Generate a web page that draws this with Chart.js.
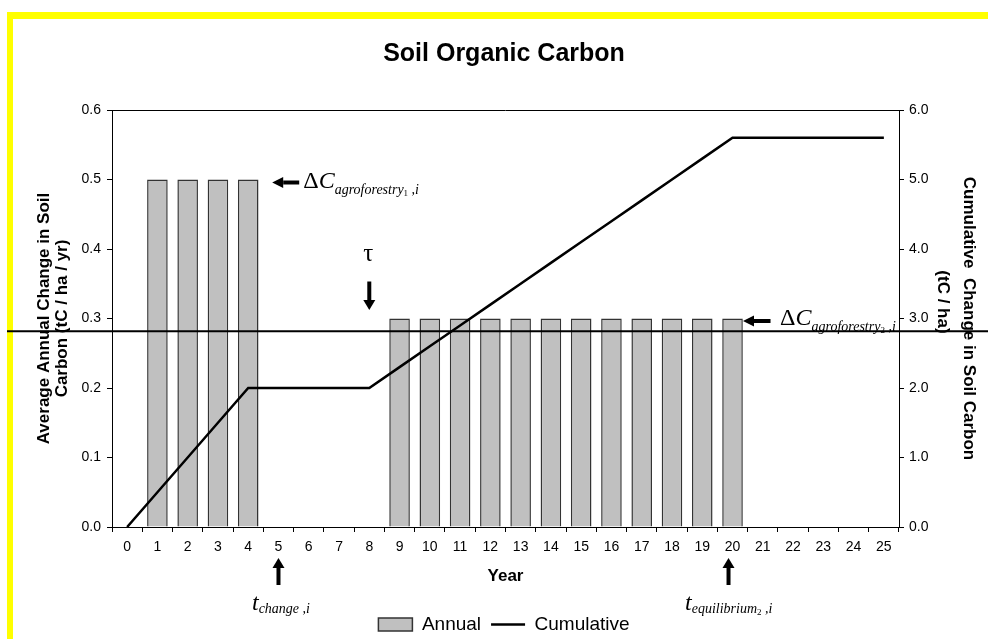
<!DOCTYPE html>
<html>
<head>
<meta charset="utf-8">
<script src="https://cdn.jsdelivr.net/npm/chart.js@4.4.1/dist/chart.umd.min.js"></script>
<style>
html,body{margin:0;padding:0;background:#fff;overflow:hidden;width:988px;height:639px;}
#frame{position:absolute;left:7px;top:12px;width:1200px;height:900px;border-left:6px solid #ffff00;border-top:7px solid #ffff00;box-sizing:border-box;}
#c{position:absolute;left:0;top:0;}
</style>
</head>
<body>
<div id="frame"></div>
<canvas id="c" width="988" height="644"></canvas>
<script>
// ---- data ----
const years = ['0','1','2','3','4','5','6','7','8','9','10','11','12','13','14','15','16','17','18','19','20','21','22','23','24','25'];
const annualChange = [null,0.5,0.5,0.5,0.5,null,null,null,null,0.3,0.3,0.3,0.3,0.3,0.3,0.3,0.3,0.3,0.3,0.3,0.3,null,null,null,null,null];
const cumulativeChange = [0,0.5,1.0,1.5,2.0,2.0,2.0,2.0,2.0,2.3,2.6,2.9,3.2,3.5,3.8,4.1,4.4,4.7,5.0,5.3,5.6,5.6,5.6,5.6,5.6,5.6];
const leftAxisRange = [0, 0.6];
const rightAxisRange = [0, 6];
const hLineValue = 0.2815; // stray horizontal rule in the original figure (left-axis units)

const SANS = '"Liberation Sans", Arial, Helvetica, sans-serif';
const SERIF = '"Liberation Serif", "Times New Roman", serif';
Chart.defaults.font.family = SANS;
Chart.defaults.color = '#000';

function arrow(ctx, x1, y1, x2, y2, shaft, headL, headW) {
  const a = Math.atan2(y2 - y1, x2 - x1);
  const bx = x2 - headL * Math.cos(a), by = y2 - headL * Math.sin(a);
  ctx.save();
  ctx.strokeStyle = '#000'; ctx.fillStyle = '#000';
  ctx.lineWidth = shaft; ctx.lineCap = 'butt';
  ctx.beginPath(); ctx.moveTo(x1, y1); ctx.lineTo(bx, by); ctx.stroke();
  ctx.beginPath(); ctx.moveTo(x2, y2);
  ctx.lineTo(bx + headW / 2 * Math.sin(a), by - headW / 2 * Math.cos(a));
  ctx.lineTo(bx - headW / 2 * Math.sin(a), by + headW / 2 * Math.cos(a));
  ctx.closePath(); ctx.fill();
  ctx.restore();
}
function runs(ctx, x, y, parts) {
  ctx.save();
  ctx.fillStyle = '#000'; ctx.textAlign = 'left'; ctx.textBaseline = 'alphabetic';
  for (const [t, f, dy] of parts) {
    ctx.font = f;
    ctx.fillText(t, x, y + dy);
    x += ctx.measureText(t).width;
  }
  ctx.restore();
}

const framePlugin = {
  id: 'frameTop',
  afterDraw(chart) {
    const {ctx, chartArea} = chart;
    ctx.save();
    ctx.strokeStyle = '#000'; ctx.lineWidth = 1;
    ctx.beginPath();
    ctx.moveTo(chartArea.left, Math.round(chartArea.top) + 0.5);
    ctx.lineTo(chartArea.right, Math.round(chartArea.top) + 0.5);
    ctx.stroke();
    ctx.restore();
  }
};

const annotPlugin = {
  id: 'annot',
  afterDraw(chart) {
    const {ctx, chartArea, scales} = chart;
    const x = scales.x, y = scales.y;
    const cx = i => x.getPixelForValue(i);
    const bot = chartArea.bottom;
    const big = 'italic 24px ' + SERIF, sub = 'italic 14px ' + SERIF, tiny = '9px ' + SERIF;

    // Delta C agroforestry 1
    const y5 = y.getPixelForValue(0.5);
    arrow(ctx, cx(4) + 51, y5 + 3, cx(4) + 24, y5 + 3, 4, 11, 11);
    runs(ctx, cx(4) + 55, y5 + 8, [['\u0394', '24px ' + SERIF, 0], ['C', big, 0], ['agroforestry', sub, 6], ['1', tiny, 8], [' ,', sub, 6], ['i', sub, 6]]);

    // Delta C agroforestry 2
    const y3 = y.getPixelForValue(0.3);
    arrow(ctx, cx(20) + 38, y3 + 2.5, cx(20) + 10.5, y3 + 2.5, 4, 11, 11);
    runs(ctx, cx(20) + 47.5, y3 + 6, [['\u0394', '24px ' + SERIF, 0], ['C', big, 0], ['agroforestry', sub, 6], ['2', tiny, 8], [' ,', sub, 6], ['i', sub, 6]]);

    // tau
    ctx.save();
    ctx.font = '25px ' + SERIF; ctx.fillStyle = '#000'; ctx.textAlign = 'center'; ctx.textBaseline = 'alphabetic';
    ctx.fillText('\u03C4', cx(8) - 1, y3 - 58);
    ctx.restore();
    arrow(ctx, cx(8), y3 - 37, cx(8), y3 - 8.5, 4, 10, 12);

    // t change
    arrow(ctx, cx(5), bot + 58, cx(5), bot + 31, 4, 10, 12);
    runs(ctx, cx(5) - 26.5, bot + 83, [['t', big, 0], ['change', sub, 3], [' ,', sub, 3], ['i', sub, 3]]);

    // t equilibrium
    arrow(ctx, cx(20) - 4, bot + 58, cx(20) - 4, bot + 31, 4, 10, 12);
    runs(ctx, cx(20) - 47.5, bot + 83, [['t', big, 0], ['equilibrium', sub, 3], ['2', tiny, 5], [' ,', sub, 3], ['i', sub, 3]]);

    // stray horizontal rule across the figure
    const hy = y.getPixelForValue(hLineValue);
    ctx.save();
    ctx.strokeStyle = '#000'; ctx.lineWidth = 2;
    ctx.beginPath(); ctx.moveTo(7, hy); ctx.lineTo(chart.width, hy); ctx.stroke();
    ctx.restore();
  }
};

new Chart(document.getElementById('c'), {
  type: 'bar',
  data: {
    labels: years,
    datasets: [
      {
        type: 'bar', label: 'Annual', data: annualChange, yAxisID: 'y',
        backgroundColor: '#C0C0C0', borderColor: '#333333', borderWidth: 1.5,
        barPercentage: 0.68, categoryPercentage: 1.0, pointStyle: 'rect', order: 2
      },
      {
        type: 'line', label: 'Cumulative', data: cumulativeChange, yAxisID: 'y2',
        borderColor: '#000', backgroundColor: '#000', borderWidth: 2.5, tension: 0, fill: false,
        pointRadius: 0, pointHoverRadius: 0, pointStyle: 'line', pointBorderColor: '#000', pointBorderWidth: 2.5,
        order: 1
      }
    ]
  },
  options: {
    responsive: false,
    animation: false,
    events: [],
    layout: {padding: {left: 20, right: 0, top: 0, bottom: 0}},
    plugins: {
      title: {
        display: true, text: 'Soil Organic Carbon', color: '#000',
        font: {family: SANS, size: 25, weight: 'bold'},
        padding: {top: 39, bottom: 41}
      },
      legend: {
        position: 'bottom',
        labels: {usePointStyle: true, pointStyleWidth: 34, boxHeight: 13, color: '#000', font: {family: SANS, size: 19}, padding: 10,
          sort: (a, b) => a.datasetIndex - b.datasetIndex}
      },
      tooltip: {enabled: false}
    },
    scales: {
      x: {
        type: 'category',
        offset: true,
        grid: {display: true, drawOnChartArea: false, drawTicks: true, tickLength: 5, color: '#000', offset: true},
        border: {display: true, color: '#000', width: 1},
        ticks: {color: '#000', font: {size: 14}, padding: 7, maxRotation: 0, autoSkip: false},
        title: {display: true, text: 'Year', color: '#000', font: {size: 17, weight: 'bold'}, padding: {top: 0, bottom: 18}},
        afterFit: s => { s.height = 78; }
      },
      y: {
        position: 'left', min: leftAxisRange[0], max: leftAxisRange[1],
        ticks: {stepSize: 0.1, callback: v => Number(v).toFixed(1), padding: 6, color: '#000', font: {size: 14}},
        grid: {drawOnChartArea: false, tickLength: 5, color: '#000'},
        border: {display: true, color: '#000', width: 1},
        title: {display: true, text: ['Average Annual Change in Soil', 'Carbon (tC / ha / yr)'], color: '#000',
          font: {size: 17, weight: 'bold', lineHeight: 18 / 17}, padding: {top: 15, bottom: 0}},
        afterFit: s => { s.width = 92; }
      },
      y2: {
        position: 'right', min: rightAxisRange[0], max: rightAxisRange[1],
        ticks: {stepSize: 1, callback: v => Number(v).toFixed(1), padding: 5, color: '#000', font: {size: 14}},
        grid: {drawOnChartArea: false, tickLength: 5, color: '#000'},
        border: {display: true, color: '#000', width: 1},
        title: {display: true, text: ['Cumulative  Change in Soil Carbon', '(tC / ha)       '], color: '#000',
          font: {size: 17, weight: 'bold', lineHeight: 26 / 17}, padding: {top: 6, bottom: 0}},
        afterFit: s => { s.width = 89; }
      }
    }
  },
  plugins: [framePlugin, annotPlugin]
});
</script>
</body>
</html>
